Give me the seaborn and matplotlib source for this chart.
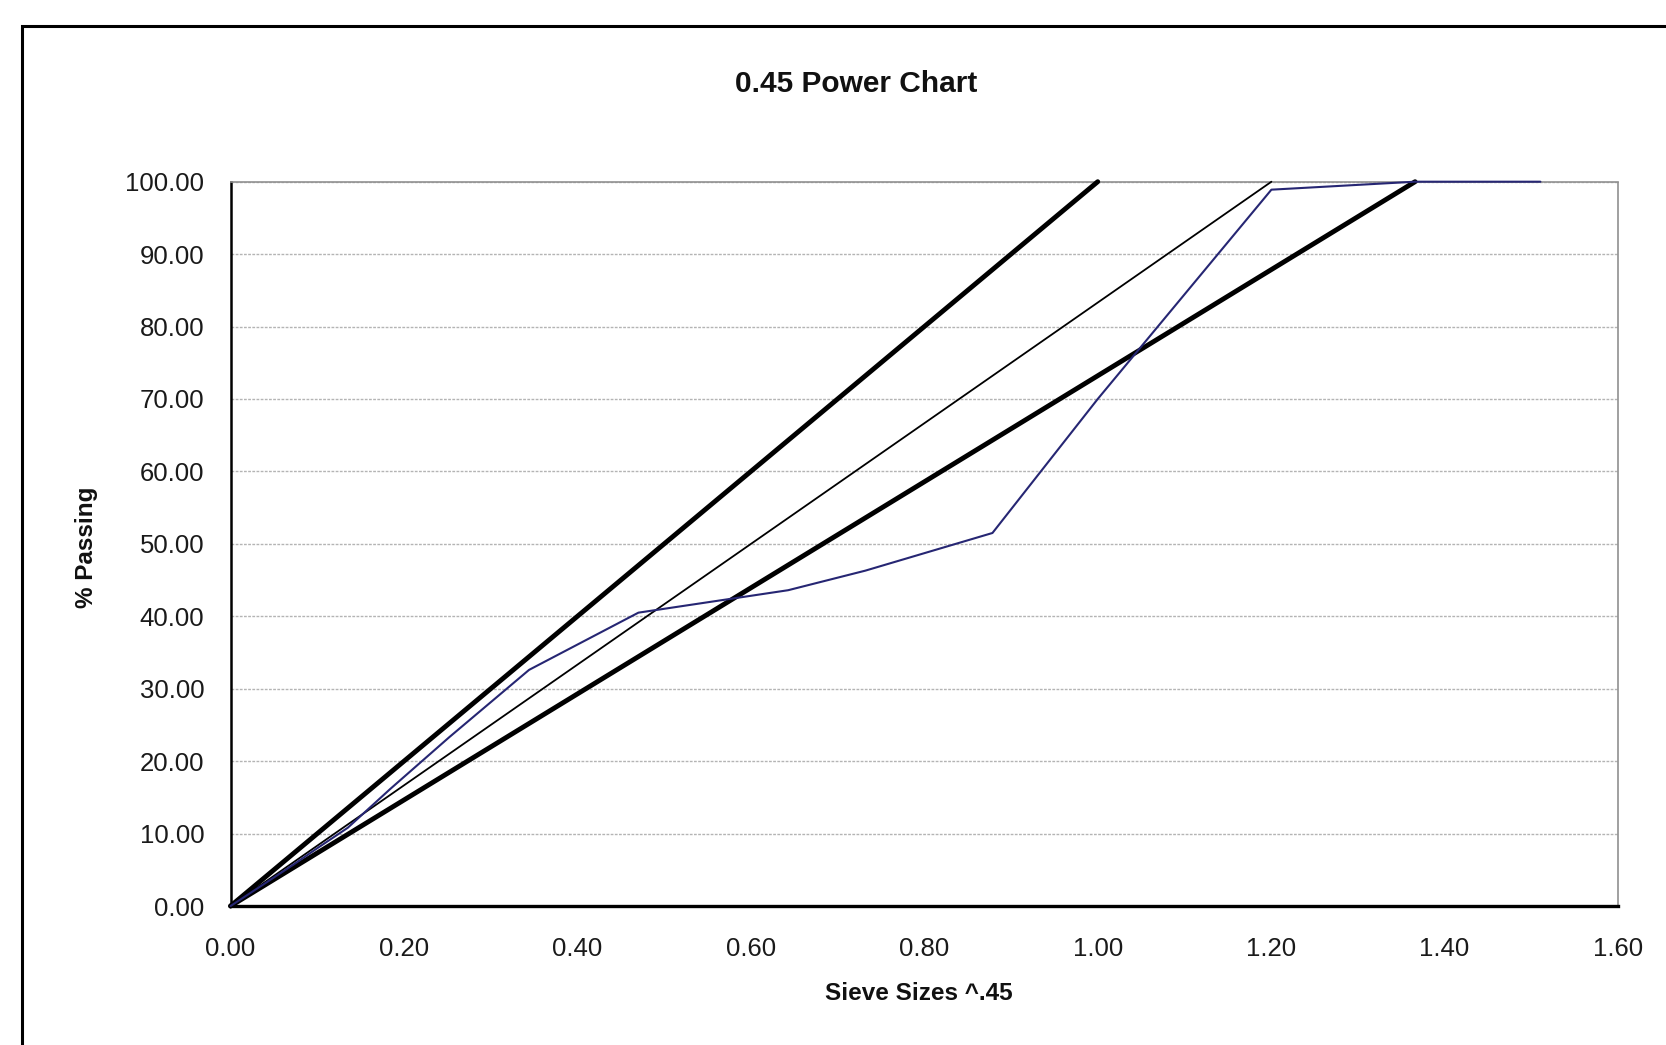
import matplotlib
matplotlib.use("Agg")
import matplotlib.pyplot as plt
import seaborn as sns
import pandas as pd
import numpy as np
from matplotlib.patches import Rectangle
from matplotlib.ticker import FormatStrFormatter

# ---- data (sieve size in inches ^0.45 vs % passing) ----
gradation_x = [1.5105, 1.3660, 1.2003, 1.0000, 0.8786, 0.7320, 0.6430,
               0.4703, 0.3442, 0.2521, 0.1845, 0.1351, 0.0990, 0.0723, 0.0]
gradation_y = [100.0, 100.0, 98.9, 70.0, 51.5, 46.3, 43.6,
               40.5, 32.6, 23.3, 16.2, 10.8, 7.9, 5.7, 0.0]

upper_x = [0.0, 1.0000]
upper_y = [0.0, 100.0]
maxden_x = [0.0, 1.2003]
maxden_y = [0.0, 100.0]
lower_x = [0.0, 1.3660]
lower_y = [0.0, 100.0]

x_ticks = [0.0, 0.2, 0.4, 0.6, 0.8, 1.0, 1.2, 1.4, 1.6]
y_ticks = [0, 10, 20, 30, 40, 50, 60, 70, 80, 90, 100]

title = "0.45 Power Chart"
x_label = "Sieve Sizes ^.45"
y_label = "% Passing"

# ---- figure ----
sns.set_theme(style="white")
plt.rcParams["font.family"] = ["Liberation Sans", "DejaVu Sans"]

W, H = 1666, 1045
fig = plt.figure(figsize=(W / 100, H / 100), dpi=100)
fig.patch.set_facecolor("white")

L, R, T, B = 230.6, 1618.0, 181.7, 906.0
ax = fig.add_axes([L / W, 1 - B / H, (R - L) / W, (B - T) / H])
ax.set_facecolor("white")

# outer chart-area frame (scan is cropped on right / bottom)
fig.patches.append(Rectangle((22 / W, -0.2), 1.2, 1.2 - 26 / H,
                             transform=fig.transFigure, fill=False,
                             edgecolor="black", linewidth=2.2, zorder=0))

# gridlines
for yv in y_ticks[1:]:
    ax.axhline(yv, color="#b4b4b4", linewidth=1.0, linestyle=(0, (2, 1)), zorder=1)

def draw(xs, ys, color, lw, z):
    df = pd.DataFrame({"x": xs, "y": ys})
    sns.lineplot(data=df, x="x", y="y", sort=False, estimator=None, ax=ax,
                 color=color, linewidth=lw, zorder=z, clip_on=False)

draw(upper_x, upper_y, "black", 3.5, 3)
draw(lower_x, lower_y, "black", 3.5, 3)
draw(maxden_x, maxden_y, "black", 1.3, 4)
draw(gradation_x, gradation_y, "#262673", 1.5, 5)

ax.set_xlim(0, 1.6)
ax.set_ylim(0, 100)
ax.set_xticks(x_ticks)
ax.set_yticks(y_ticks)
ax.xaxis.set_major_formatter(FormatStrFormatter("%.2f"))
ax.yaxis.set_major_formatter(FormatStrFormatter("%.2f"))

ax.tick_params(axis="both", which="major", labelsize=18.5, colors="#1a1a1a",
               direction="out", length=6, width=1.0)
ax.tick_params(axis="x", pad=16, color="#909090")
ax.tick_params(axis="y", pad=13, color="#909090")

ax.set_xlabel("")
ax.set_ylabel("")

for side in ["top", "right"]:
    ax.spines[side].set_color("#909090")
    ax.spines[side].set_linewidth(1.2)
    ax.spines[side].set_linestyle((0, (2, 1)))
ax.spines["left"].set_color("black")
ax.spines["left"].set_linewidth(1.8)
ax.spines["bottom"].set_color("black")
ax.spines["bottom"].set_linewidth(2.4)
for s in ax.spines.values():
    s.set_zorder(2)

fig.text(856 / W, 1 - 84 / H, title, ha="center", va="center",
         fontsize=21.5, fontweight="bold", color="#111111")
fig.text(919 / W, 1 - 994 / H, x_label, ha="center", va="center",
         fontsize=17.5, fontweight="bold", color="#111111")
fig.text(87 / W, 1 - 547 / H, y_label, ha="center", va="center",
         fontsize=17.5, fontweight="bold", color="#111111", rotation=90)

fig.savefig("out.png", dpi=100, facecolor="white")
